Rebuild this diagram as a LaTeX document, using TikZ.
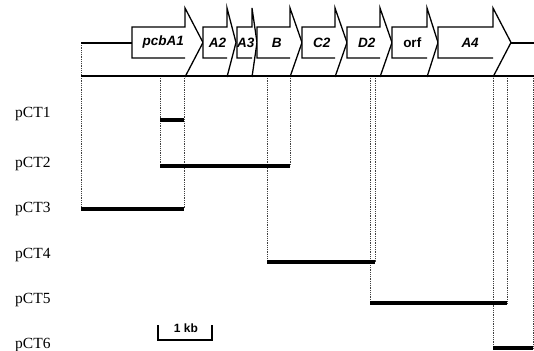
\documentclass[tikz,border=0pt]{standalone}
\usepackage{fontspec}
\setmainfont{Liberation Serif}
\setsansfont{Liberation Sans}
\usepackage{tikz}
\usetikzlibrary{calc}
\tikzset{
  gene/.style ={draw, line width=1.3pt, line join=miter},
  gname/.style={font=\sffamily\bfseries\itshape\fontsize{13.5}{14}\selectfont, inner sep=0pt},
  dna/.style  ={line width=2.6pt},
  link/.style ={line width=1.1pt},
  guide/.style={densely dotted, line width=0.8pt, draw=black!75},
  clone/.style={line width=3.2pt},
  plab/.style ={font=\fontsize{15.5}{16}\selectfont, anchor=base west, inner sep=0pt},
  kb/.style   ={font=\sffamily\bfseries\fontsize{12}{12}\selectfont, anchor=base, inner sep=0pt},
}

\begin{document}
\begin{tikzpicture}[x=1pt, y=-1pt]
  \useasboundingbox (0,0) rectangle (534,350);
  % ends of the insert
  \coordinate (L) at (81,76);
  \coordinate (R) at (534,76);
  % guide lines down to the clones
  \draw[guide] (81,43) -- (L);
  \foreach \x/\y in {81/209,160/166,184/209,267/262,290/166,370/303,375/262,493/348,507/303,533/348}
    \draw[guide] (\x,76) -- (\x,\y);
  % flanking lines
  \draw[link] (81,43) -- (132,43);
  \draw[link] (511,43) -- (534,43);
  % genes: body start / head start / tip
  \foreach \s/\h/\t/\g/\n in {132/185/203/pcbA1/gA1, 203/227/236/A2/gA2, 237/252/257/A3/gA3,
      257/290/302/B/gB, 302/335/347/C2/gC2, 347/380/392/D2/gD2, 392/427/438/{\upshape orf}/gorf,
      438/493/511/A4/gA4}{
    \fill[white] (\s,27) -- (\h,27) -- (\h,8) -- (\t,42.5) -- (\h,77) -- (\h,58) -- (\s,58) -- cycle;
    \draw[gene] (\h,58) -- (\s,58) -- (\s,27) -- (\h,27) -- (\h,8) -- (\t,42.5) -- (\h,77);
    \node[gname] (\n) at ({\s+0.44*(\t-\s)},42.5) {\g};
  }
  \draw[dna] (L) -- (R);
  % clones
  \foreach \n/\y/\b/\a/\e in {1/120/117/160/184, 2/166/167/160/290, 3/209/212/81/184,
      4/262/258/267/375, 5/303/303/370/507, 6/348/348/493/533}{
    \node[plab] (pCT\n) at (15,\b) {pCT\n};
    \draw[clone] (\a,\y) -- (\e,\y);
  }
  % scale bar
  \draw[link] (158,325) -- (158,340) -- (212,340) -- (212,325);
  \node[kb] (bar) at (186,332) {1 kb};
\end{tikzpicture}
\end{document}
